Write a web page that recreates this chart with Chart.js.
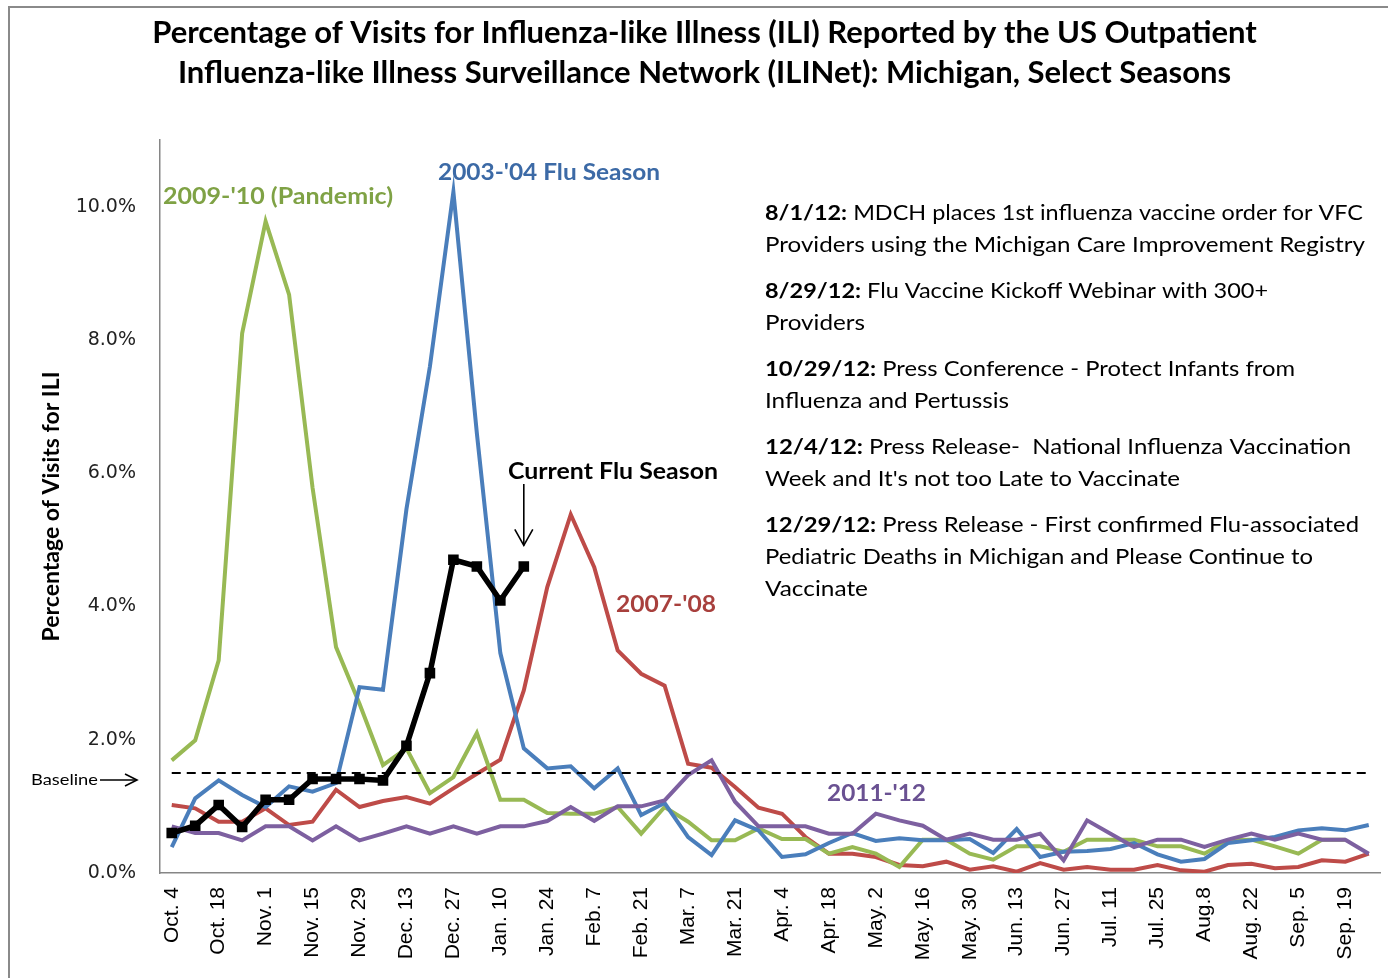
<!DOCTYPE html>
<html><head><meta charset="utf-8">
<script src="https://cdn.jsdelivr.net/npm/chart.js@4.4.0/dist/chart.umd.min.js"></script>
<style>html,body{margin:0;padding:0;background:#fff;}</style>
</head><body>
<canvas id="c" width="1388" height="978"></canvas>
<script>
// ---------- DATA ----------
const weekLabels = [
  'Oct. 4','Oct. 11','Oct. 18','Oct. 25','Nov. 1','Nov. 8','Nov. 15','Nov. 22','Nov. 29','Dec. 6',
  'Dec. 13','Dec. 20','Dec. 27','Jan. 3','Jan. 10','Jan. 17','Jan. 24','Jan. 31','Feb. 7','Feb. 14',
  'Feb. 21','Feb. 28','Mar. 7','Mar. 14','Mar. 21','Mar. 28','Apr. 4','Apr. 11','Apr. 18','Apr. 25',
  'May. 2','May. 9','May. 16','May. 23','May. 30','Jun. 6','Jun. 13','Jun. 20','Jun. 27','Jul. 4',
  'Jul. 11','Jul. 18','Jul. 25','Aug. 1','Aug.8','Aug. 15','Aug. 22','Aug. 29','Sep. 5','Sep. 12',
  'Sep. 19','Sep. 26'
];
const season2003 = [
  0.39,1.12,1.39,1.17,0.99,1.30,1.22,1.35,2.79,2.75,5.46,7.60,10.22,
  6.60,3.30,1.87,1.57,1.60,1.27,1.57,0.87,1.05,0.54,0.27,0.79,0.64,
  0.24,0.28,0.45,0.60,0.48,0.52,0.49,0.49,0.51,0.30,0.66,0.24,0.32,
  0.33,0.36,0.45,0.28,0.17,0.21,0.45,0.49,0.54,0.64,0.67,0.64,0.72
];
const season2009 = [
  1.69,1.99,3.19,8.10,9.78,8.68,5.78,3.39,2.54,1.62,1.87,1.20,1.44,
  2.10,1.10,1.10,0.90,0.89,0.89,0.99,0.59,0.99,0.77,0.49,0.49,0.67,
  0.51,0.51,0.29,0.39,0.29,0.09,0.50,0.50,0.29,0.20,0.40,0.40,0.32,
  0.50,0.50,0.50,0.40,0.40,0.29,0.49,0.50,0.40,0.29,0.50,0.50,null
];
const season2007 = [
  1.02,0.97,0.77,0.77,0.97,0.72,0.77,1.25,0.99,1.08,1.14,1.04,1.27,
  1.49,1.70,2.74,4.29,5.38,4.59,3.34,2.99,2.81,1.64,1.58,1.29,0.98,
  0.89,0.54,0.29,0.29,0.24,0.12,0.10,0.17,0.05,0.10,0.02,0.15,0.05,
  0.09,0.05,0.05,0.12,0.04,0.02,0.12,0.14,0.07,0.09,0.19,0.17,0.29
];
const season2011 = [
  0.70,0.60,0.60,0.49,0.70,0.70,0.49,0.70,0.49,0.59,0.70,0.59,0.70,
  0.59,0.70,0.70,0.78,0.99,0.78,1.00,1.00,1.09,1.47,1.69,1.07,0.70,
  0.70,0.70,0.59,0.59,0.89,0.79,0.71,0.50,0.59,0.50,0.50,0.59,0.19,
  0.79,0.59,0.39,0.50,0.50,0.39,0.50,0.59,0.50,0.59,0.50,0.50,0.29
];
const currentSeason = [
  0.60,0.71,1.02,0.69,1.10,1.10,1.41,1.41,1.41,1.39,1.91,3.00,4.70,4.60,4.09,4.60
];
const baselineLevel = 1.5;
const yTickValues = [0,2,4,6,8,10];

const titleLines = [
  'Percentage of Visits for Influenza-like Illness (ILI) Reported by the US Outpatient',
  'Influenza-like Illness Surveillance Network (ILINet): Michigan, Select Seasons'
];
const yAxisTitle = 'Percentage of Visits for ILI';
const seriesNames = ["2003-'04 Flu Season", "2009-'10 (Pandemic)", "2007-'08", "2011-'12", 'Current Flu Season', 'Baseline'];
const eventNotes = [
  [['8/1/12:', true], [' MDCH places 1st influenza vaccine order for VFC', false]],
  [['Providers using the Michigan Care Improvement Registry', false]],
  [['8/29/12:', true], [' Flu Vaccine Kickoff Webinar with 300+', false]],
  [['Providers', false]],
  [['10/29/12:', true], [' Press Conference - Protect Infants from', false]],
  [['Influenza and Pertussis', false]],
  [['12/4/12:', true], [' Press Release-  National Influenza Vaccination', false]],
  [["Week and It's not too Late to Vaccinate", false]],
  [['12/29/12:', true], [' Press Release - First confirmed Flu-associated', false]],
  [['Pediatric Deaths in Michigan and Please Continue to', false]],
  [['Vaccinate', false]]
];

// ---------- STYLE / LAYOUT ----------
const COL = {blue:'#4A7EBB', green:'#98B954', red:'#BE4B48', purple:'#7D60A0'};
const LABEL_COL = {blue:'#3C6AA6', green:'#7FA245', red:'#A8403D', purple:'#6A5192'};
const FONT = 'Lato';
const notesY = [213, 245, 291, 323, 369, 401, 447, 479, 525, 557, 589];
const notesW = [598, 600, 503, 100, 530, 244, 586, 415, 594, 548, 103];

function drawParts(ctx, parts, x, y, size, targetWidth, color) {
  let total = 0;
  const widths = parts.map(p => {
    ctx.font = (p[1] ? 'bold ' : '') + size + 'px ' + FONT;
    const w = ctx.measureText(p[0]).width; total += w; return w;
  });
  const sx = targetWidth ? targetWidth / total : 1;
  ctx.save();
  ctx.translate(x, y);
  ctx.scale(sx, 1);
  ctx.textAlign = 'left';
  ctx.textBaseline = 'middle';
  ctx.fillStyle = color;
  let cx = 0;
  parts.forEach((p, i) => {
    ctx.font = (p[1] ? 'bold ' : '') + size + 'px ' + FONT;
    ctx.fillText(p[0], cx, 0);
    cx += widths[i];
  });
  ctx.restore();
}
function arrow(ctx, x1, y1, x2, y2, len, half, color, lw) {
  const a = Math.atan2(y2 - y1, x2 - x1);
  ctx.save();
  ctx.strokeStyle = color; ctx.lineWidth = lw;
  ctx.beginPath(); ctx.moveTo(x1, y1); ctx.lineTo(x2, y2); ctx.stroke();
  const bx = x2 - len * Math.cos(a), by = y2 - len * Math.sin(a);
  const px = -Math.sin(a) * half, py = Math.cos(a) * half;
  ctx.beginPath();
  ctx.moveTo(bx + px, by + py); ctx.lineTo(x2, y2); ctx.lineTo(bx - px, by - py);
  ctx.stroke();
  ctx.restore();
}

const framePlugin = {
  id: 'frame',
  beforeDraw(chart) {
    const ctx = chart.ctx;
    ctx.save();
    ctx.fillStyle = '#fff';
    ctx.fillRect(0, 0, chart.width, chart.height);
    ctx.strokeStyle = '#8a8a8a'; ctx.lineWidth = 2;
    ctx.beginPath();
    ctx.moveTo(9, chart.height); ctx.lineTo(9, 7); ctx.lineTo(chart.width, 7);
    ctx.stroke();
    ctx.restore();
  }
};

const annotPlugin = {
  id: 'annot',
  afterDraw(chart) {
    const ctx = chart.ctx;
    const xs = chart.scales.x, ys = chart.scales.y;
    drawParts(ctx, [[seriesNames[1], true]], 163, 197, 23, 230, LABEL_COL.green);
    drawParts(ctx, [[seriesNames[0], true]], 438, 173, 23, 222, LABEL_COL.blue);
    drawParts(ctx, [[seriesNames[4], true]], 508, 472, 23, 210, '#000');
    drawParts(ctx, [[seriesNames[2], true]], 616, 605, 23, 100, LABEL_COL.red);
    drawParts(ctx, [[seriesNames[3], true]], 827, 794, 23, 99, LABEL_COL.purple);
    const lastIdx = currentSeason.length - 1;
    const ax = xs.getPixelForValue(lastIdx);
    const ay = ys.getPixelForValue(currentSeason[lastIdx]);
    arrow(ctx, ax, 484, ax, ay - 21, 16, 9, '#000', 1.6);
    const by = ys.getPixelForValue(baselineLevel);
    drawParts(ctx, [[seriesNames[5], false]], 31, by + 7, 16, 67, '#000');
    arrow(ctx, 100, by + 7, 137, by + 7, 12, 6, '#000', 1.6);
    eventNotes.forEach((parts, i) => drawParts(ctx, parts, 765, notesY[i], 21, notesW[i], '#000'));
  }
};

function lineDs(label, data, color, order, extra) {
  return Object.assign({
    label, data, borderColor: color, backgroundColor: color,
    borderWidth: 4, pointRadius: 0, pointHoverRadius: 0, tension: 0, fill: false, order
  }, extra || {});
}

new Chart(document.getElementById('c'), {
  type: 'line',
  data: {
    labels: weekLabels,
    datasets: [
      lineDs(seriesNames[4], currentSeason, '#000', 0, {borderWidth: 5.5, pointRadius: 7.5, pointStyle: 'rect', pointBackgroundColor: '#000', pointBorderColor: '#000', pointBorderWidth: 0}),
      lineDs(seriesNames[5], weekLabels.map(() => baselineLevel), '#000', 1, {borderWidth: 2, borderDash: [9, 6]}),
      lineDs(seriesNames[3], season2011, COL.purple, 2),
      lineDs(seriesNames[0], season2003, COL.blue, 3),
      lineDs(seriesNames[1], season2009, COL.green, 4),
      lineDs(seriesNames[2], season2007, COL.red, 5)
    ]
  },
  options: {
    responsive: false,
    animation: false,
    devicePixelRatio: 1,
    layout: {padding: {left: 24, right: 3, top: 0, bottom: 0}},
    plugins: {
      legend: {display: false},
      tooltip: {enabled: false},
      title: {
        display: true, text: titleLines, color: '#000',
        font: {family: FONT, size: 31, weight: 'bold', lineHeight: 1.2903},
        padding: {top: 13, bottom: 47}
      }
    },
    scales: {
      x: {
        type: 'category', offset: true,
        grid: {display: false, drawTicks: false},
        border: {display: true, color: '#868686', width: 1.5},
        ticks: {
          autoSkip: false, maxRotation: 90, minRotation: 90, padding: 14,
          font: {family: 'Liberation Sans', size: 21}, color: '#000',
          callback: (v, i) => (i % 2 === 0 ? weekLabels[i] : '')
        },
        afterFit: s => { s.height = 105; s.paddingLeft = 0; s.paddingRight = 0; }
      },
      y: {
        min: 0, max: 11,
        afterBuildTicks: s => { s.ticks = yTickValues.map(v => ({value: v})); },
        grid: {display: false, drawTicks: false},
        border: {display: true, color: '#868686', width: 1.5},
        ticks: {
          padding: 24, font: {family: 'DejaVu Sans', size: 19}, color: '#222',
          callback: v => Number(v).toFixed(1) + '%'
        },
        title: {
          display: true, text: yAxisTitle, color: '#000',
          font: {family: FONT, size: 23, weight: 'bold'},
          padding: {top: 14, bottom: 0}
        },
        afterFit: s => { s.width = 136; s.paddingTop = 0; s.paddingBottom = 0; }
      }
    }
  },
  plugins: [framePlugin, annotPlugin]
});
</script>
</body></html>
